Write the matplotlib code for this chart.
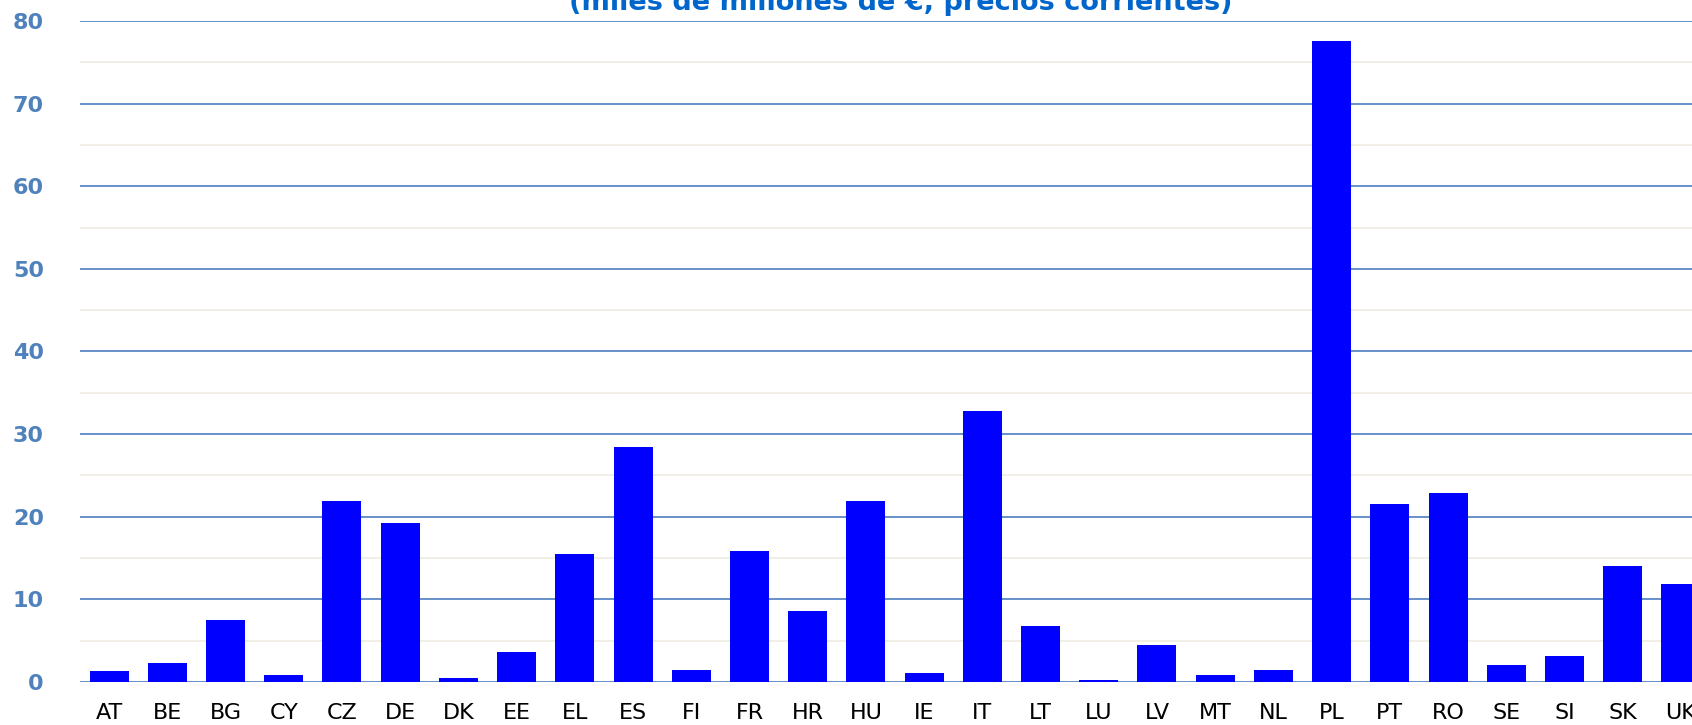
import matplotlib
matplotlib.use("Agg")
import matplotlib.pyplot as plt
from matplotlib.ticker import MultipleLocator

countries = ["AT", "BE", "BG", "CY", "CZ", "DE", "DK", "EE", "EL", "ES", "FI", "FR",
             "HR", "HU", "IE", "IT", "LT", "LU", "LV", "MT", "NL", "PL", "PT", "RO",
             "SE", "SI", "SK", "UK"]
values = [1.3, 2.3, 7.5, 0.8, 21.9, 19.3, 0.45, 3.6, 15.5, 28.5, 1.45, 15.8,
          8.55, 21.9, 1.1, 32.85, 6.8, 0.2, 4.45, 0.8, 1.45, 77.6, 21.5, 22.9,
          2.1, 3.1, 14.0, 11.9]
title = "(miles de millones de €, precios corrientes)"

W, H = 1692, 725
fig = plt.figure(figsize=(W / 100, H / 100), dpi=100)
left, right = 80, 1710
top, bottom = 21, 682
ax = fig.add_axes([left / W, 1 - bottom / H, (right - left) / W, (bottom - top) / H])

x = list(range(len(countries)))
ax.bar(x, values, width=0.67, color="#0000FF", zorder=3)

ax.set_xlim(-0.5, len(countries) - 0.5)
ax.set_ylim(0, 80)
ax.yaxis.set_major_locator(MultipleLocator(10))
ax.yaxis.set_minor_locator(MultipleLocator(5))
ax.grid(which="major", axis="y", color="#5A88C6", linewidth=1.3, zorder=1)
ax.grid(which="minor", axis="y", color="#F0EDE3", linewidth=1.3, zorder=0)
ax.grid(which="major", axis="x", visible=False)
for s in ax.spines.values():
    s.set_visible(False)

ax.set_xticks(x)
ax.set_xticklabels(countries, fontsize=16, color="black")
ax.tick_params(axis="x", length=0, pad=15)
ax.tick_params(axis="y", which="both", length=0, pad=26, labelsize=16,
               labelcolor="#4F81BD")
ax.set_yticks(range(0, 81, 10))
for lbl in ax.get_yticklabels():
    lbl.set_fontweight("bold")

fig.text(901 / W, 1 - 10 / H, title, ha="center", va="baseline",
         fontsize=19.5, fontweight="bold", color="#0066CC")

fig.savefig("out.png", dpi=100)
